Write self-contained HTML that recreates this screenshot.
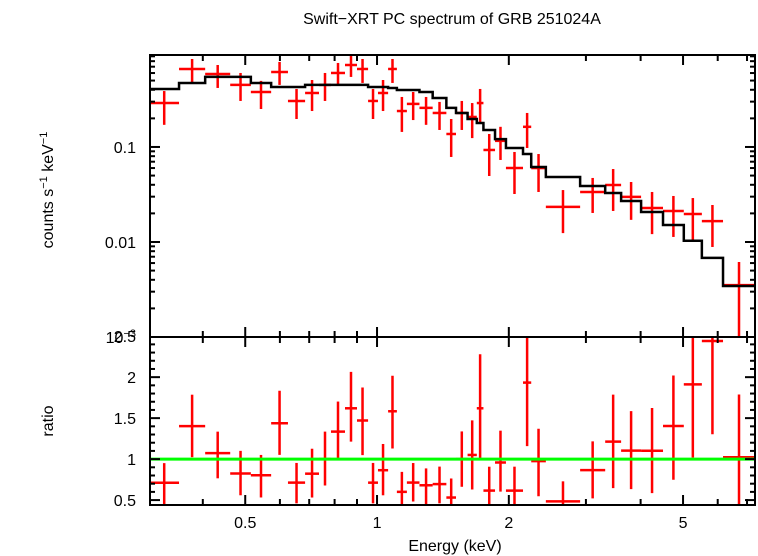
<!DOCTYPE html>
<html><head><meta charset="utf-8"><style>
body{margin:0;background:#fff}
svg{display:block;font-family:"Liberation Sans",sans-serif}
</style></head><body>
<svg id="chart" width="758" height="556" viewBox="0 0 758 556">
<text x="452" y="24" font-size="16" text-anchor="middle">Swift−XRT PC spectrum of GRB 251024A</text>
<text transform="translate(53,190) rotate(-90)" font-size="16" text-anchor="middle">counts s<tspan font-size="11" dy="-6">−1</tspan><tspan dy="6"> keV</tspan><tspan font-size="11" dy="-6">−1</tspan></text>
<text transform="translate(53,421) rotate(-90)" font-size="16" text-anchor="middle">ratio</text>
<text x="455" y="551" font-size="16" text-anchor="middle">Energy (keV)</text>
<g id="g"></g>
</svg>
<script>
const binLo=[0.302,0.353,0.405,0.462,0.515,0.573,0.626,0.685,0.737,0.785,0.845,0.900,0.954,1.005,1.06,1.11,1.17,1.25,1.34,1.44,1.515,1.61,1.69,1.75,1.86,1.97,2.155,2.25,2.43,2.91,3.32,3.61,4.01,4.50,5.02,5.52,6.17];
const binHi=[0.353,0.405,0.462,0.515,0.573,0.626,0.685,0.737,0.785,0.845,0.900,0.954,1.005,1.06,1.11,1.17,1.25,1.34,1.44,1.515,1.61,1.69,1.75,1.86,1.97,2.155,2.25,2.43,2.91,3.32,3.61,4.01,4.50,5.02,5.52,6.17,7.30];
const counts=[0.290,0.662,0.586,0.450,0.379,0.615,0.305,0.370,0.450,0.601,0.729,0.662,0.305,0.370,0.662,0.239,0.284,0.258,0.228,0.137,0.228,0.207,0.290,0.093,0.116,0.060,0.163,0.060,0.0234,0.0336,0.0398,0.0298,0.0228,0.0212,0.0197,0.0166,0.00352];
const countsLo=[0.171,0.483,0.418,0.305,0.251,0.450,0.197,0.239,0.305,0.450,0.546,0.472,0.197,0.239,0.472,0.144,0.192,0.171,0.151,0.0785,0.151,0.124,0.179,0.0495,0.073,0.032,0.0976,0.0336,0.0124,0.0202,0.0212,0.0171,0.0121,0.0113,0.0105,0.00886,0.0005];
const countsHi=[0.388,0.843,0.729,0.601,0.496,0.785,0.408,0.507,0.601,0.766,0.929,0.843,0.408,0.507,0.843,0.336,0.379,0.336,0.298,0.197,0.305,0.290,0.408,0.137,0.163,0.0886,0.228,0.0843,0.0352,0.0472,0.0586,0.0428,0.0336,0.0305,0.029,0.0245,0.00615];
const model=[0.408,0.472,0.546,0.546,0.472,0.428,0.428,0.450,0.450,0.450,0.450,0.450,0.428,0.428,0.418,0.398,0.398,0.379,0.328,0.258,0.228,0.197,0.179,0.151,0.121,0.0976,0.0843,0.0615,0.0483,0.0388,0.0328,0.0270,0.0207,0.0151,0.0103,0.0068,0.00344];
const xTickVals=[0.5,1,2,5];
const xTickLabels=["0.5","1","2","5"];
const yTickVals=[0.1,0.01];
const yTickLabels=["0.1","0.01"];
const rTickVals=[0.5,1,1.5,2,2.5];
const rTickLabels=["0.5","1","1.5","2","2.5"];

const L=150,R=755,T1=55,B1=337,T2=337,B2=505;
const xMin=0.303,xMax=7.30;
const X=e=>L+(Math.log10(e)-Math.log10(xMin))/(Math.log10(xMax)-Math.log10(xMin))*(R-L);
const yMin=0.001,yMax=0.929;
const Y=v=>B1-(Math.log10(Math.max(v,1e-6))-Math.log10(yMin))/(Math.log10(yMax)-Math.log10(yMin))*(B1-T1);
const rMin=0.44,rMax=2.49;
const YR=r=>B2-(r-rMin)/(rMax-rMin)*(B2-T2);
const NS="http://www.w3.org/2000/svg";
const g=document.getElementById('g');
function el(tag,attrs,parent){const e=document.createElementNS(NS,tag);for(const k in attrs)e.setAttribute(k,attrs[k]);(parent||g).appendChild(e);return e;}
function line(x1,y1,x2,y2,c,w,p){return el('line',{x1,y1,x2,y2,stroke:c,'stroke-width':w},p);}

const defs=el('defs',{});
const c1=el('clipPath',{id:'c1'},defs);el('rect',{x:L,y:T1,width:R-L,height:B1-T1},c1);
const c2=el('clipPath',{id:'c2'},defs);el('rect',{x:L,y:T2,width:R-L,height:B2-T2},c2);

const topG=el('g',{'clip-path':'url(#c1)'});


const botG=el('g',{'clip-path':'url(#c2)'});



for(let i=0;i<counts.length;i++){
  const xc=X(Math.sqrt(binLo[i]*binHi[i]));
  const grp=el('g',{},topG);
  
  
  line(X(binLo[i]),Y(counts[i]),X(binHi[i]),Y(counts[i]),'#f00',2.5,grp);
  line(xc,Y(countsLo[i]),xc,Y(countsHi[i]),'#f00',2.5,grp);
}
let d='';
for(let i=0;i<model.length;i++){
  d+=(i===0?'M':'L')+X(binLo[i])+','+Y(model[i])+'L'+X(binHi[i])+','+Y(model[i]);
}
const mp=el('path',{d,fill:'none',stroke:'#000','stroke-width':2.5},topG);



for(let i=0;i<counts.length;i++){
  const xc=X(Math.sqrt(binLo[i]*binHi[i]));
  const r=counts[i]/model[i],rl=countsLo[i]/model[i],rh=countsHi[i]/model[i];
  const grp=el('g',{},botG);
  
  
  line(X(binLo[i]),YR(r),X(binHi[i]),YR(r),'#f00',2.5,grp);
  line(xc,YR(rl),xc,YR(rh),'#f00',2.5,grp);
}
const ul=line(L,YR(1),R,YR(1),'#0f0',3,botG);



const f1=el('rect',{x:L,y:T1,width:R-L,height:B1-T1,fill:'none',stroke:'#000','stroke-width':2});


const f2=el('rect',{x:L,y:T2,width:R-L,height:B2-T2,fill:'none',stroke:'#000','stroke-width':2});



const minorE=[0.4,0.5,0.6,0.7,0.8,0.9,1,2,3,4,5,6,7];
for(const e of minorE){
  const x=X(e),maj=xTickVals.includes(e),len=maj?10:6;
  for(const [yt,yb] of [[T1,B1],[T2,B2]]){
    line(x,yt,x,yt+len,'#000',2);line(x,yb,x,yb-len,'#000',2);
  }
}
xTickVals.forEach((v,i)=>{
  const t=el('text',{x:X(v),y:528,'font-size':16,'text-anchor':'middle'});t.textContent=xTickLabels[i];
  
  
});
for(let dec=-3;dec<0;dec++){
  for(let m=1;m<10;m++){
    const v=m*Math.pow(10,dec);if(v>yMax)continue;
    const y=Y(v),len=m===1?10:5;
    line(L,y,L+len,y,'#000',2);line(R,y,R-len,y,'#000',2);
  }
}
yTickVals.forEach((v,i)=>{
  const t=el('text',{x:136,y:Y(v)+6,'font-size':16,'text-anchor':'end'});t.textContent=yTickLabels[i];
  
  
});
const t3=el('text',{x:136,y:Y(0.001)+6,'font-size':16,'text-anchor':'end'});


t3.innerHTML='10<tspan font-size="11" dy="-6">−3</tspan>';
for(let r=0.5;r<=2.5;r+=0.1){
  const y=YR(r),maj=Math.abs(r*2-Math.round(r*2))<1e-6,len=maj?10:5;
  line(L,y,L+len,y,'#000',2);line(R,y,R-len,y,'#000',2);
}
rTickVals.forEach((v,i)=>{
  const t=el('text',{x:136,y:YR(v)+6,'font-size':16,'text-anchor':'end'});t.textContent=rTickLabels[i];
  
  
});
</script>
</body></html>
